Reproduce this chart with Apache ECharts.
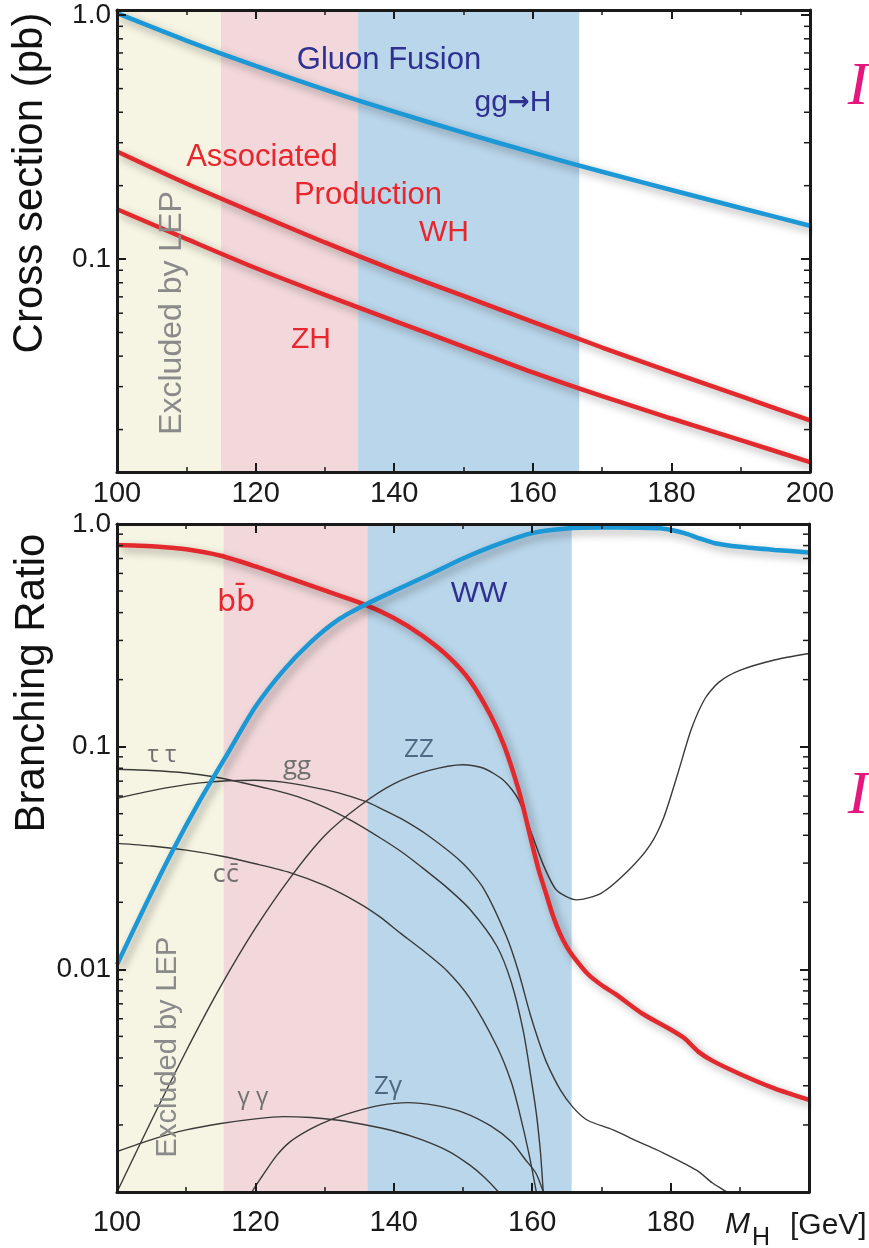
<!DOCTYPE html>
<html>
<head>
<meta charset="utf-8">
<title>Higgs cross sections and branching ratios</title>
<script src="https://cdn.jsdelivr.net/npm/echarts@6.0.0/dist/echarts.min.js"></script>
<style>
  html, body { margin: 0; padding: 0; background: #fff; }
  #main { width: 869px; height: 1248px; }
</style>
</head>
<body>
<div id="main"></div>
<script>
// top panel: production cross sections (pb)
var topMass = [100, 110, 120, 130, 140, 150, 160, 170, 180, 190, 200];
var xsecGG = [1.019, 0.787, 0.619, 0.495, 0.402, 0.330, 0.273, 0.228, 0.192, 0.162, 0.137];
var xsecWH = [0.276, 0.204, 0.154, 0.117, 0.0901, 0.0706, 0.0553, 0.0434, 0.0344, 0.0274, 0.0218];
var xsecZH = [0.160, 0.121, 0.0919, 0.0713, 0.0558, 0.0438, 0.0343, 0.0274, 0.0222, 0.0181, 0.0147];

// bottom panel: branching ratios
var wwMass = [100, 104, 108, 112, 116, 120, 124, 128, 132, 136, 140, 145, 150, 155, 160, 165, 170, 175, 179, 182, 184, 186.4, 190, 195, 200];
var wwBR = [0.0105, 0.0191, 0.0339, 0.0575, 0.0933, 0.151, 0.219, 0.295, 0.372, 0.436, 0.50, 0.59, 0.70, 0.81, 0.91, 0.955, 0.965, 0.962, 0.953, 0.91, 0.865, 0.82, 0.79, 0.765, 0.745];

var bbMass = [100, 105, 110, 115, 120, 125, 130, 136, 140, 144, 148, 151, 154, 156, 158, 159, 160, 161, 162, 163, 164, 165, 166, 168, 170, 172, 176, 180, 182, 184, 186, 190, 195, 200];
var bbBR = [0.805, 0.795, 0.77, 0.72, 0.645, 0.57, 0.503, 0.432, 0.378, 0.317, 0.252, 0.198, 0.138, 0.100, 0.0646, 0.049, 0.0363, 0.0275, 0.0219, 0.0174, 0.0145, 0.0126, 0.01135, 0.00955, 0.0085, 0.00776, 0.0063, 0.00537, 0.0049, 0.00427, 0.00389, 0.00339, 0.00292, 0.00259];

var zzMass = [100, 105, 110, 115, 120, 125, 130, 135, 140, 145, 150, 153, 156, 158, 160, 161.5, 163.5, 166.4, 170, 174, 177, 179, 181, 183, 185, 187, 190, 195, 200];
var zzBR = [0.0010, 0.0021, 0.0043, 0.0084, 0.0153, 0.0257, 0.0398, 0.054, 0.068, 0.078, 0.083, 0.080, 0.070, 0.058, 0.040, 0.030, 0.0227, 0.0205, 0.022, 0.028, 0.036, 0.048, 0.075, 0.12, 0.165, 0.195, 0.22, 0.245, 0.262];

var ttMass = [100, 105, 110, 114, 118, 122, 126, 130, 134, 138, 141, 144, 147.6, 151, 154.9, 157, 158.7, 159.8, 160.6, 161.2, 161.6, 162];
var ttBR = [0.0792, 0.0782, 0.0762, 0.0733, 0.069, 0.0646, 0.0598, 0.0535, 0.0463, 0.039, 0.0339, 0.0288, 0.0234, 0.0186, 0.0127, 0.0087, 0.0053, 0.0033, 0.00225, 0.0015, 0.001, 0.0007];

var gluMass = [100, 104, 108, 112, 116, 120, 124, 128, 132, 136, 138, 141, 145, 150, 153, 156.3, 158, 159.7, 161, 162.1, 164, 165.9, 168, 171.7, 175, 178.9, 183.8, 186, 188.1, 190];
var gluBR = [0.0586, 0.0625, 0.066, 0.0688, 0.0703, 0.0707, 0.0693, 0.066, 0.062, 0.0566, 0.053, 0.0476, 0.0398, 0.0299, 0.023, 0.014, 0.0098, 0.0063, 0.0047, 0.0038, 0.0029, 0.0024, 0.0021, 0.0019, 0.0017, 0.0015, 0.00125, 0.0011, 0.001, 0.0009];

var ccMass = [100, 105, 110, 115, 120, 125, 130, 135, 138, 141, 144, 147.6, 151, 154.9, 157, 158.2, 159.5, 160.6, 161.5];
var ccBR = [0.0368, 0.0358, 0.0343, 0.0323, 0.0298, 0.0272, 0.0238, 0.0198, 0.0172, 0.0145, 0.0123, 0.0099, 0.0074, 0.0045, 0.0031, 0.00225, 0.0015, 0.001, 0.0007];

var aaMass = [100, 105, 110, 115, 120, 124, 128, 132, 136, 140, 144, 148, 151, 153, 155, 157];
var aaBR = [0.00152, 0.00172, 0.0019, 0.00203, 0.00213, 0.00218, 0.00216, 0.0021, 0.002, 0.00188, 0.00172, 0.00152, 0.00132, 0.00117, 0.00101, 0.00085];

var zaMass = [118, 119.5, 121, 123, 125, 128, 131, 134, 138, 142, 146, 150, 154, 157, 159, 160.5, 161.6, 162.5];
var zaBR = [0.0008, 0.001, 0.00118, 0.00145, 0.00168, 0.00192, 0.00212, 0.00228, 0.00245, 0.00252, 0.00245, 0.00228, 0.00198, 0.00168, 0.0014, 0.00122, 0.001, 0.0008];

// shaded mass windows (left edge .. right edge)
var bandsTop = [[100, 115], [115, 134.8], [134.8, 166.7]];
var bandsBottom = [[100, 115.4], [115.4, 136.2], [136.2, 165.7]];
var bandColors = ['rgb(219,215,143)', 'rgb(218,144,149)', 'rgb(58,138,195)'];
var bandOpacity = [0.25, 0.35, 0.35];

var minorTop = [0.02, 0.03, 0.04, 0.05, 0.06, 0.07, 0.08, 0.09, 0.2, 0.3, 0.4, 0.5, 0.6, 0.7, 0.8, 0.9];
var minorBottom = [0.002, 0.003, 0.004, 0.005, 0.006, 0.007, 0.008, 0.009,
  0.02, 0.03, 0.04, 0.05, 0.06, 0.07, 0.08, 0.09, 0.2, 0.3, 0.4, 0.5, 0.6, 0.7, 0.8, 0.9];

var FONT = 'Liberation Sans';
var INK = '#1a1a1a';

function pairs(xs, ys) {
  return xs.map(function (x, i) { return [x, ys[i]]; });
}

function decadeLabel(v) {
  var e = Math.log(v) / Math.LN10;
  if (Math.abs(e - Math.round(e)) > 1e-6) return '';
  var r = Math.round(e);
  if (r === 0) return '1.0';
  if (r === -1) return '0.1';
  if (r === -2) return '0.01';
  return '';
}

function xAxisCfg(grid, pos, showLabel, margin) {
  return {
    type: 'value', gridIndex: grid, position: pos, min: 100, max: 200, interval: 20, z: 10,
    axisLine: { show: true, onZero: false, lineStyle: { color: INK, width: 3 } },
    axisTick: { show: true, inside: true, length: 9, lineStyle: { color: INK, width: 2 } },
    minorTick: { show: true, splitNumber: 2, length: 5, lineStyle: { color: INK, width: 1.5 } },
    splitLine: { show: false },
    axisLabel: {
      show: showLabel, fontSize: 29, color: INK, fontFamily: FONT, margin: margin,
      formatter: function (v) { return (grid === 1 && v === 200) ? '' : String(v); }
    }
  };
}

function yAxisCfg(grid, pos, showLabel, min, max) {
  return {
    type: 'log', logBase: 10, gridIndex: grid, position: pos, min: min, max: max, z: 10,
    axisLine: { show: true, onZero: false, lineStyle: { color: INK, width: 3 } },
    axisTick: { show: true, inside: true, length: 9, lineStyle: { color: INK, width: 2 } },
    splitLine: { show: false },
    axisLabel: { show: showLabel, fontSize: 28, color: INK, fontFamily: FONT, margin: 6, formatter: decadeLabel }
  };
}

function thick(name, xi, data, color) {
  return {
    name: name, type: 'line', xAxisIndex: xi, yAxisIndex: xi, data: data,
    showSymbol: false, smooth: 0.25, z: 3,
    lineStyle: { color: color, width: 4.5, shadowColor: 'rgba(0,0,0,0.35)', shadowBlur: 8, shadowOffsetX: 4, shadowOffsetY: 4 }
  };
}

function thin(name, data) {
  return {
    name: name, type: 'line', xAxisIndex: 2, yAxisIndex: 2, data: data,
    showSymbol: false, smooth: 0.25, z: 2,
    lineStyle: { color: '#3a3a3a', width: 1.4 }
  };
}

function bandSeries(xi, bands) {
  return {
    type: 'line', xAxisIndex: xi, yAxisIndex: xi, data: [], z: 5, silent: true,
    markArea: {
      silent: true,
      data: bands.map(function (b, i) {
        return [{ xAxis: b[0], itemStyle: { color: bandColors[i], opacity: bandOpacity[i] } }, { xAxis: b[1] }];
      })
    }
  };
}

function minorTickSeries(xi, vals) {
  return {
    type: 'custom', xAxisIndex: xi, yAxisIndex: xi, silent: true, z: 12,
    data: vals.map(function (v) { return [100, v]; }),
    renderItem: function (params, api) {
      var p = api.coord([api.value(0), api.value(1)]);
      var xl = params.coordSys.x, xr = params.coordSys.x + params.coordSys.width;
      var st = { stroke: INK, lineWidth: 1.5 };
      return {
        type: 'group', children: [
          { type: 'line', shape: { x1: xl, y1: p[1], x2: xl + 6, y2: p[1] }, style: st },
          { type: 'line', shape: { x1: xr - 6, y1: p[1], x2: xr, y2: p[1] }, style: st }
        ]
      };
    }
  };
}

function txt(text, x, y, size, color, opts) {
  opts = opts || {};
  var st = {
    text: text, fill: color,
    font: (opts.style || 'normal') + ' ' + (opts.weight || 'normal') + ' ' + size + 'px "' + (opts.family || FONT) + '"',
    textAlign: opts.align || 'center', align: opts.align || 'center',
    textVerticalAlign: 'middle', verticalAlign: 'middle'
  };
  if (opts.rich) st.rich = opts.rich;
  return { type: 'text', x: x, y: y, z: 100, rotation: opts.rot || 0, style: st };
}

var BLUE_TXT = '#2e3192', RED_TXT = '#e8262d', GREY = '#707070', GREY_B = '#4d6a84';

var chart = echarts.init(document.getElementById('main'));
var option = {
  animation: false,
  backgroundColor: '#fff',
  textStyle: { fontFamily: FONT },
  grid: [
    { left: 117, top: 10, width: 693, height: 462 },
    { left: 117, top: 524, width: 692, height: 668 }
  ],
  xAxis: [
    xAxisCfg(0, 'bottom', true, 7),
    xAxisCfg(0, 'top', false, 7),
    xAxisCfg(1, 'bottom', true, 16),
    xAxisCfg(1, 'top', false, 7)
  ],
  yAxis: [
    yAxisCfg(0, 'left', true, 0.0134, 1.05),
    yAxisCfg(0, 'right', false, 0.0134, 1.05),
    yAxisCfg(1, 'left', true, 0.001, 1.0),
    yAxisCfg(1, 'right', false, 0.001, 1.0)
  ],
  series: [
    thick('gg→H', 0, pairs(topMass, xsecGG), '#1b98d5'),
    thick('WH', 0, pairs(topMass, xsecWH), '#e2292e'),
    thick('ZH', 0, pairs(topMass, xsecZH), '#e2292e'),
    bandSeries(0, bandsTop),
    minorTickSeries(0, minorTop),

    thin('ZZ', pairs(zzMass, zzBR)),
    thin('ττ', pairs(ttMass, ttBR)),
    thin('gg', pairs(gluMass, gluBR)),
    thin('cc̄', pairs(ccMass, ccBR)),
    thin('γγ', pairs(aaMass, aaBR)),
    thin('Zγ', pairs(zaMass, zaBR)),
    thick('bb̄', 2, pairs(bbMass, bbBR), '#e2292e'),
    thick('WW', 2, pairs(wwMass, wwBR), '#1b98d5'),
    bandSeries(2, bandsBottom),
    minorTickSeries(2, minorBottom)
  ],
  graphic: [
    txt('Cross section (pb)', 30, 183, 42, '#111', { rot: Math.PI / 2 }),
    txt('Excluded by LEP', 172, 313, 32, '#8a8a8a', { rot: Math.PI / 2 }),
    txt('Gluon Fusion', 389, 60, 31, BLUE_TXT),
    txt('{a|gg}{b|→}{a|H}', 513, 103, 30, BLUE_TXT, {
      rich: {
        a: { fontSize: 30, fontFamily: FONT, fill: BLUE_TXT, color: BLUE_TXT },
        b: { fontSize: 26, fontWeight: 'bold', fontFamily: 'DejaVu Sans', fill: BLUE_TXT, color: BLUE_TXT }
      }
    }),
    txt('Associated', 262, 157, 31, RED_TXT),
    txt('Production', 368, 195, 31, RED_TXT),
    txt('WH', 444, 233, 30, RED_TXT),
    txt('ZH', 311, 340, 30, RED_TXT),
    txt('I', 858, 88, 62, '#e5177e', { style: 'italic', family: 'Liberation Serif' }),

    txt('Branching Ratio', 32, 683, 42, '#111', { rot: Math.PI / 2 }),
    txt('Excluded by LEP', 168, 1047, 29, '#8a8a8a', { rot: Math.PI / 2 }),
    txt('bb\u0304', 236, 603, 30, RED_TXT, { family: 'DejaVu Sans' }),
    txt('WW', 479, 594, 30, BLUE_TXT),
    txt('τ τ', 162, 755, 24, GREY, { family: 'Open Sans' }),
    txt('gg', 297, 767, 26, GREY, { family: 'Open Sans' }),
    txt('ZZ', 419, 750, 26, GREY_B, { family: 'Open Sans' }),
    txt('cc\u0304', 226, 876, 24, GREY, { family: 'DejaVu Sans' }),
    txt('γ γ', 253, 1097, 24, GREY, { family: 'Open Sans' }),
    txt('Zγ', 388, 1087, 26, GREY_B, { family: 'Open Sans' }),
    txt('M', 725, 1225, 30, INK, { style: 'italic', align: 'left' }),
    txt('H', 752, 1238, 25, INK, { align: 'left' }),
    txt('[GeV]', 790, 1226, 30, INK, { align: 'left' }),
    txt('I', 858, 797, 62, '#e5177e', { style: 'italic', family: 'Liberation Serif' })
  ]
};
chart.setOption(option);
</script>
</body>
</html>
